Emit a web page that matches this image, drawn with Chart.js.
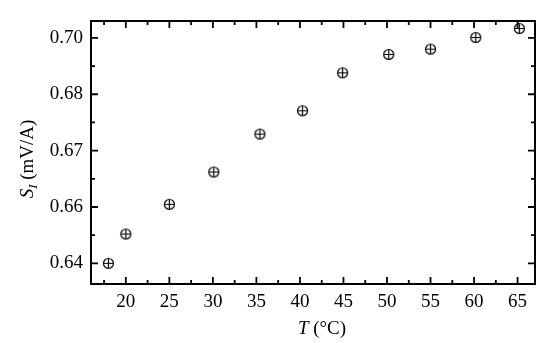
<!DOCTYPE html>
<html>
<head>
<meta charset="utf-8">
<script src="https://cdn.jsdelivr.net/npm/chart.js@4"></script>
<style>
  html, body { margin: 0; padding: 0; background: #fff; }
  #wrap { width: 550px; height: 343px; }
</style>
</head>
<body>
<div id="wrap"><canvas id="chart" width="550" height="343"></canvas></div>
<script>
// temperature (°C) and sensitivity S_I (mV/A)
const temps = [18, 20, 25, 30.1, 35.4, 40.3, 44.9, 50.2, 55.0, 60.2, 65.2];
const sens = [0.6400, 0.6478, 0.6557, 0.6643, 0.6744, 0.6806, 0.6907, 0.6956, 0.6970, 0.7001, 0.7025];

const xTicks = [20, 25, 30, 35, 40, 45, 50, 55, 60, 65];
const yTicks = [0.64, 0.655, 0.67, 0.685, 0.70];
const yTickLabels = ['0.64', '0.66', '0.67', '0.68', '0.70'];

const FONT = '"Liberation Serif", "Times New Roman", serif';

// marker: circle with a plus inside
function makeMarker() {
  const c = document.createElement('canvas');
  c.width = 13; c.height = 13;
  const g = c.getContext('2d');
  g.strokeStyle = '#000';
  g.lineWidth = 1.2;
  g.beginPath();
  g.arc(6.5, 6.5, 5, 0, Math.PI * 2);
  g.stroke();
  g.beginPath();
  g.moveTo(1.5, 6.5); g.lineTo(11.5, 6.5);
  g.moveTo(6.5, 1.5); g.lineTo(6.5, 11.5);
  g.stroke();
  return c;
}

// frame, inward ticks on all four sides, and axis titles
const framePlugin = {
  id: 'frame',
  afterDraw(chart) {
    const { ctx, chartArea: a, scales } = chart;
    const xs = scales.x, ys = scales.y;
    ctx.save();
    ctx.strokeStyle = '#000';
    ctx.lineWidth = 2;
    ctx.strokeRect(a.left, a.top, a.right - a.left, a.bottom - a.top);

    ctx.lineWidth = 1.8;
    ctx.beginPath();
    const xMinor = xTicks.map(v => v - 2.5);
    xTicks.forEach(v => {
      const p = xs.getPixelForValue(v);
      ctx.moveTo(p, a.bottom); ctx.lineTo(p, a.bottom - 7);
      ctx.moveTo(p, a.top); ctx.lineTo(p, a.top + 7);
    });
    xMinor.forEach(v => {
      const p = xs.getPixelForValue(v);
      ctx.moveTo(p, a.bottom); ctx.lineTo(p, a.bottom - 4);
      ctx.moveTo(p, a.top); ctx.lineTo(p, a.top + 4);
    });
    const yMinor = yTicks.slice(1).map(v => v - 0.0075);
    yTicks.forEach(v => {
      const p = ys.getPixelForValue(v);
      ctx.moveTo(a.left, p); ctx.lineTo(a.left + 7, p);
      ctx.moveTo(a.right, p); ctx.lineTo(a.right - 7, p);
    });
    yMinor.forEach(v => {
      const p = ys.getPixelForValue(v);
      ctx.moveTo(a.left, p); ctx.lineTo(a.left + 4, p);
      ctx.moveTo(a.right, p); ctx.lineTo(a.right - 4, p);
    });
    ctx.stroke();

    // x title: T (°C)
    ctx.fillStyle = '#000';
    ctx.textBaseline = 'alphabetic';
    const xParts = [
      { t: 'T', f: 'italic 19px ' + FONT },
      { t: ' (°C)', f: '19px ' + FONT }
    ];
    let w = 0;
    xParts.forEach(p => { ctx.font = p.f; w += ctx.measureText(p.t).width; });
    let x = 322 - w / 2;
    xParts.forEach(p => { ctx.font = p.f; ctx.fillText(p.t, x, 334); x += ctx.measureText(p.t).width; });

    // y title: S_I (mV/A)
    ctx.translate(33, 159);
    ctx.rotate(-Math.PI / 2);
    const yParts = [
      { t: 'S', f: 'italic 19px ' + FONT, dy: 0 },
      { t: 'I', f: 'italic 13px ' + FONT, dy: 4 },
      { t: ' (mV/A)', f: '19px ' + FONT, dy: 0 }
    ];
    w = 0;
    yParts.forEach(p => { ctx.font = p.f; w += ctx.measureText(p.t).width; });
    x = -w / 2;
    yParts.forEach(p => { ctx.font = p.f; ctx.fillText(p.t, x, p.dy); x += ctx.measureText(p.t).width; });
    ctx.restore();
  }
};

const ctx = document.getElementById('chart').getContext('2d');
new Chart(ctx, {
  type: 'scatter',
  data: {
    datasets: [{
      data: temps.map((t, i) => ({ x: t, y: sens[i] })),
      pointStyle: makeMarker(),
      pointRadius: 5,
      showLine: false
    }]
  },
  options: {
    responsive: false,
    animation: false,
    devicePixelRatio: 1,
    layout: { padding: { top: 21, right: 15, left: 0, bottom: 0 } },
    plugins: { legend: { display: false }, tooltip: { enabled: false } },
    scales: {
      x: {
        type: 'linear',
        min: 16,
        max: 67,
        grid: { display: false, drawTicks: false },
        border: { display: false },
        afterBuildTicks: s => { s.ticks = xTicks.map(v => ({ value: v })); },
        afterFit: s => { s.height = 59; },
        ticks: {
          color: '#000',
          font: { family: FONT, size: 19 },
          padding: 7,
          maxRotation: 0,
          callback: v => String(v)
        }
      },
      y: {
        type: 'linear',
        min: 0.6345,
        max: 0.7045,
        grid: { display: false, drawTicks: false },
        border: { display: false },
        afterBuildTicks: s => { s.ticks = yTicks.map(v => ({ value: v })); },
        afterFit: s => { s.width = 91; },
        ticks: {
          color: '#000',
          font: { family: FONT, size: 19 },
          padding: 8,
          callback: (v, i) => yTickLabels[i]
        }
      }
    }
  },
  plugins: [framePlugin]
});
</script>
</body>
</html>
